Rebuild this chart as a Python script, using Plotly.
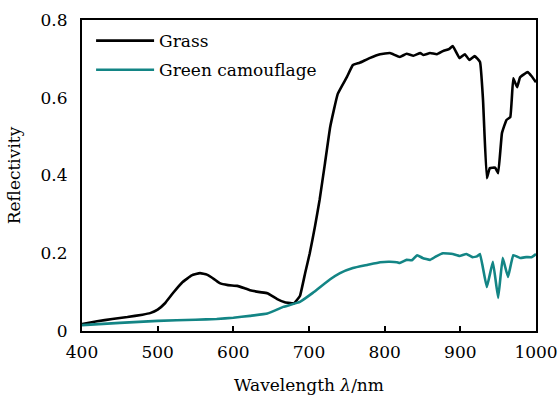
import plotly.graph_objects as go

grass_wl = [400, 420, 440, 460, 480, 490, 500, 510, 520, 533, 545, 556, 565, 575, 582, 593, 605, 615, 622, 635, 645, 658, 668, 675, 680, 688, 695, 701, 708, 714, 721, 728, 738, 750, 758, 767, 780, 794, 807, 820, 829, 838, 847, 851, 860, 869, 877, 885, 890, 899, 906, 912, 919, 926, 930, 935, 939, 946, 950, 955, 961, 966, 970, 975, 979, 989, 994, 1000]
grass_r = [0.018, 0.025, 0.031, 0.036, 0.042, 0.046, 0.055, 0.072, 0.097, 0.126, 0.143, 0.149, 0.145, 0.133, 0.123, 0.118, 0.116, 0.110, 0.105, 0.100, 0.097, 0.082, 0.074, 0.072, 0.071, 0.090, 0.150, 0.200, 0.270, 0.337, 0.430, 0.525, 0.610, 0.653, 0.684, 0.690, 0.702, 0.712, 0.715, 0.705, 0.713, 0.708, 0.715, 0.710, 0.715, 0.712, 0.720, 0.725, 0.733, 0.702, 0.712, 0.697, 0.707, 0.692, 0.594, 0.393, 0.419, 0.420, 0.406, 0.509, 0.543, 0.550, 0.650, 0.627, 0.653, 0.666, 0.656, 0.640]

camo_wl = [400, 450, 500, 550, 578, 600, 622, 645, 666, 688, 705, 728, 741, 758, 777, 794, 807, 816, 820, 829, 836, 843, 850, 860, 868, 877, 890, 899, 908, 916, 922, 926, 935, 943, 950, 956, 963, 970, 979, 987, 994, 1000]
camo_r = [0.015, 0.021, 0.026, 0.029, 0.031, 0.034, 0.039, 0.045, 0.062, 0.075, 0.098, 0.133, 0.149, 0.162, 0.170, 0.177, 0.178, 0.177, 0.175, 0.183, 0.182, 0.195, 0.188, 0.183, 0.192, 0.200, 0.198, 0.193, 0.198, 0.190, 0.192, 0.198, 0.113, 0.178, 0.085, 0.188, 0.139, 0.195, 0.188, 0.190, 0.190, 0.198]

x_ticks = [400, 500, 600, 700, 800, 900, 1000]
y_ticks = [0, 0.2, 0.4, 0.6, 0.8]
y_tick_text = ["0", "0.2", "0.4", "0.6", "0.8"]

FONT = "DejaVu Serif"
TEAL = "#138585"
FS = 17

fig = go.Figure()
fig.add_trace(go.Scatter(x=grass_wl, y=grass_r, mode="lines", name="Grass", legendgroup="g1",
                         line=dict(color="black", width=2.6, shape="spline", smoothing=0.3)))
fig.add_trace(go.Scatter(x=camo_wl, y=camo_r, mode="lines", name="Green camouflage", legendgroup="g2",
                         line=dict(color=TEAL, width=2.6, shape="spline", smoothing=0.3)))

fig.update_layout(
    width=558, height=397,
    margin=dict(l=82, r=22, t=20, b=66, autoexpand=False),
    paper_bgcolor="white", plot_bgcolor="white",
    font=dict(family=FONT, size=FS, color="black"),
    showlegend=True,
    legend=dict(x=0.02, y=0.99, xanchor="left", yanchor="top",
                bgcolor="rgba(0,0,0,0)", font=dict(family=FONT, size=FS),
                itemwidth=58, tracegroupgap=4),
)
fig.update_xaxes(range=[400, 1000], tickvals=x_ticks, ticks="inside", ticklen=5,
                 tickwidth=2, tickcolor="black", showline=True, linecolor="black",
                 linewidth=2, mirror=True, showgrid=False, zeroline=False, automargin=False,
                 ticklabelstandoff=5, tickfont=dict(family=FONT, size=FS),
                 title=dict(text="Wavelength <i>λ</i>/nm", font=dict(family=FONT, size=FS), standoff=18))
fig.update_yaxes(range=[0, 0.8], tickvals=y_ticks, ticktext=y_tick_text, ticks="",
                 showline=True, linecolor="black", linewidth=2, mirror=True, automargin=False,
                 showgrid=False, zeroline=False, ticklabelstandoff=9,
                 tickfont=dict(family=FONT, size=FS),
                 title=dict(text="Reflectivity", font=dict(family=FONT, size=FS), standoff=16))

fig.write_html("out.html")
